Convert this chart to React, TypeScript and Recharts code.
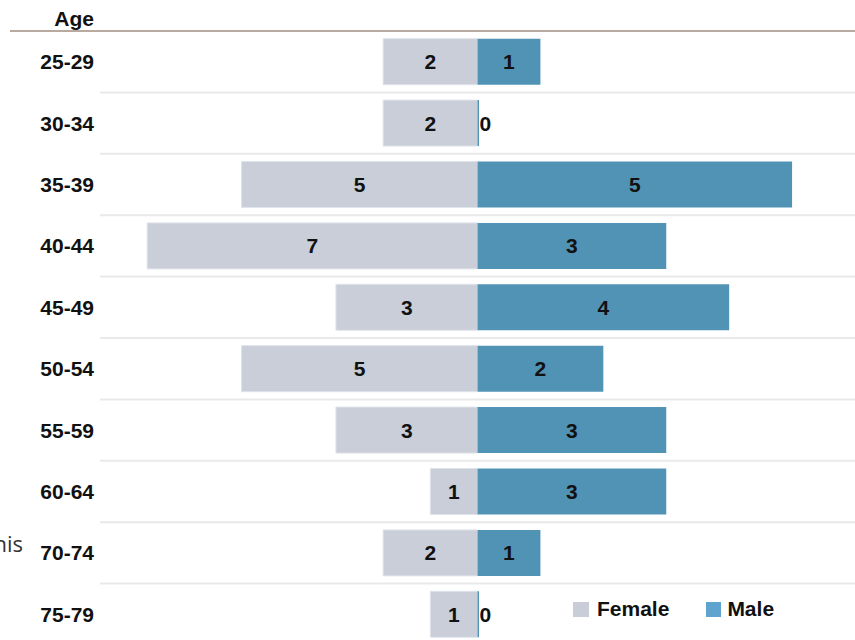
import React from 'react';
import { BarChart, Bar, XAxis, YAxis, CartesianGrid, LabelList, Legend } from 'recharts';

const ageGroups = ['25-29', '30-34', '35-39', '40-44', '45-49', '50-54', '55-59', '60-64', '70-74', '75-79'];
const femaleCounts = [2, 2, 5, 7, 3, 5, 3, 1, 2, 1];
const maleCounts = [1, 0, 5, 3, 4, 2, 3, 3, 1, 0];
const femaleDomain = [-8, 8];
const maleDomain = [-6, 6];
const seriesNames = { female: 'Female', male: 'Male' };
const axisTitle = 'Age';
const sideText = 'this';

const data = ageGroups.map((age, i) => ({ age, female: femaleCounts[i], male: maleCounts[i] }));

const FONT = '"Liberation Sans", Arial, sans-serif';
const FEMALE_COLOR = '#c9ced9';
const MALE_COLOR = '#5193b5';
const FEMALE_LEGEND = '#c8cdd8';
const MALE_LEGEND = '#5fa3cf';

const gridLines = (props: any) => {
  const offset = props?.offset;
  const n = ageGroups.length;
  const top = Number(offset?.top ?? 31);
  const h = Number(offset?.height ?? 614);
  const out: number[] = [];
  for (let i = 1; i <= n; i++) out.push(top + (h * i) / n);
  return out;
};

const AgeTick = (p: any) => (
  <text
    x={p.x + 2}
    y={p.y}
    textAnchor="end"
    dominantBaseline="central"
    style={{ fontFamily: FONT, fontWeight: 700, fontSize: 21, fill: '#111' }}
  >
    {p.payload?.value}
  </text>
);

const renderValue = (props: any) => {
  const x = Number(props.x);
  const w = Number(props.width);
  const y = Number(props.y);
  const h = Number(props.height);
  const raw = Array.isArray(props.value) ? props.value[props.value.length - 1] : props.value;
  const v = Math.abs(Number(raw));
  const cy = y + h / 2;
  const style = { fontFamily: FONT, fontWeight: 700, fontSize: 21, fill: '#111' };
  if (v === 0) {
    return (
      <text x={Math.max(x, x + w) + 0.5} y={cy} textAnchor="start" dominantBaseline="central" style={style}>
        0
      </text>
    );
  }
  return (
    <text x={x + w / 2} y={cy} textAnchor="middle" dominantBaseline="central" style={style}>
      {v}
    </text>
  );
};

const LegendContent = () => (
  <div style={{ display: 'flex', alignItems: 'center', fontFamily: FONT, fontWeight: 700, fontSize: 21, color: '#111' }}>
    <span style={{ display: 'inline-block', width: 16, height: 15, background: FEMALE_LEGEND, marginRight: 8 }} />
    <span style={{ marginRight: 37 }}>{seriesNames.female}</span>
    <span style={{ display: 'inline-block', width: 15, height: 15, background: MALE_LEGEND, marginRight: 6 }} />
    <span>{seriesNames.male}</span>
  </div>
);

export default function App() {
  return (
    <div style={{ position: 'absolute', left: 0, top: 0, width: 855, height: 640, overflow: 'hidden', background: '#fff' }}>
      <BarChart
        width={855}
        height={645}
        data={data}
        layout="vertical"
        margin={{ top: 31, right: 0, bottom: 0, left: 0 }}
        barCategoryGap="12.5%"
      >
        <CartesianGrid
          xAxisId="f"
          yAxisId="f"
          vertical={false}
          stroke="#e9e9e9"
          strokeWidth={2}
          horizontalCoordinatesGenerator={gridLines}
        />
        <XAxis xAxisId="f" type="number" domain={femaleDomain} reversed hide allowDataOverflow />
        <XAxis xAxisId="m" type="number" domain={maleDomain} hide allowDataOverflow />
        <YAxis
          yAxisId="f"
          type="category"
          dataKey="age"
          width={100}
          axisLine={false}
          tickLine={false}
          tick={AgeTick}
          interval={0}
        />
        <YAxis yAxisId="m" type="category" dataKey="age" hide />
        <Bar
          xAxisId="f"
          yAxisId="f"
          dataKey="female"
          name={seriesNames.female}
          fill={FEMALE_COLOR}
          stroke="#dfe3ea"
          strokeWidth={1}
          isAnimationActive={false}
        >
          <LabelList content={renderValue} />
        </Bar>
        <Bar
          xAxisId="m"
          yAxisId="m"
          dataKey="male"
          name={seriesNames.male}
          fill={MALE_COLOR}
          minPointSize={1.5}
          isAnimationActive={false}
        >
          <LabelList content={renderValue} />
        </Bar>
        <Legend
          layout="vertical"
          align="center"
          verticalAlign="middle"
          content={LegendContent}
          wrapperStyle={{ position: 'absolute', left: 573, top: 597, width: 260, height: 22, bottom: 'auto', right: 'auto' }}
        />
      </BarChart>
      <svg width={855} height={640} style={{ position: 'absolute', left: 0, top: 0, pointerEvents: 'none' }}>
        <line x1={10} x2={855} y1={31} y2={31} stroke="#a08e7e" strokeWidth={1.5} />
        <text x={94} y={26} textAnchor="end" style={{ fontFamily: FONT, fontWeight: 700, fontSize: 21, fill: '#111' }}>
          {axisTitle}
        </text>
        <text x={23} y={552} textAnchor="end" style={{ fontFamily: '"Open Sans", sans-serif', fontSize: 22, fill: '#333' }}>
          {sideText}
        </text>
      </svg>
    </div>
  );
}
